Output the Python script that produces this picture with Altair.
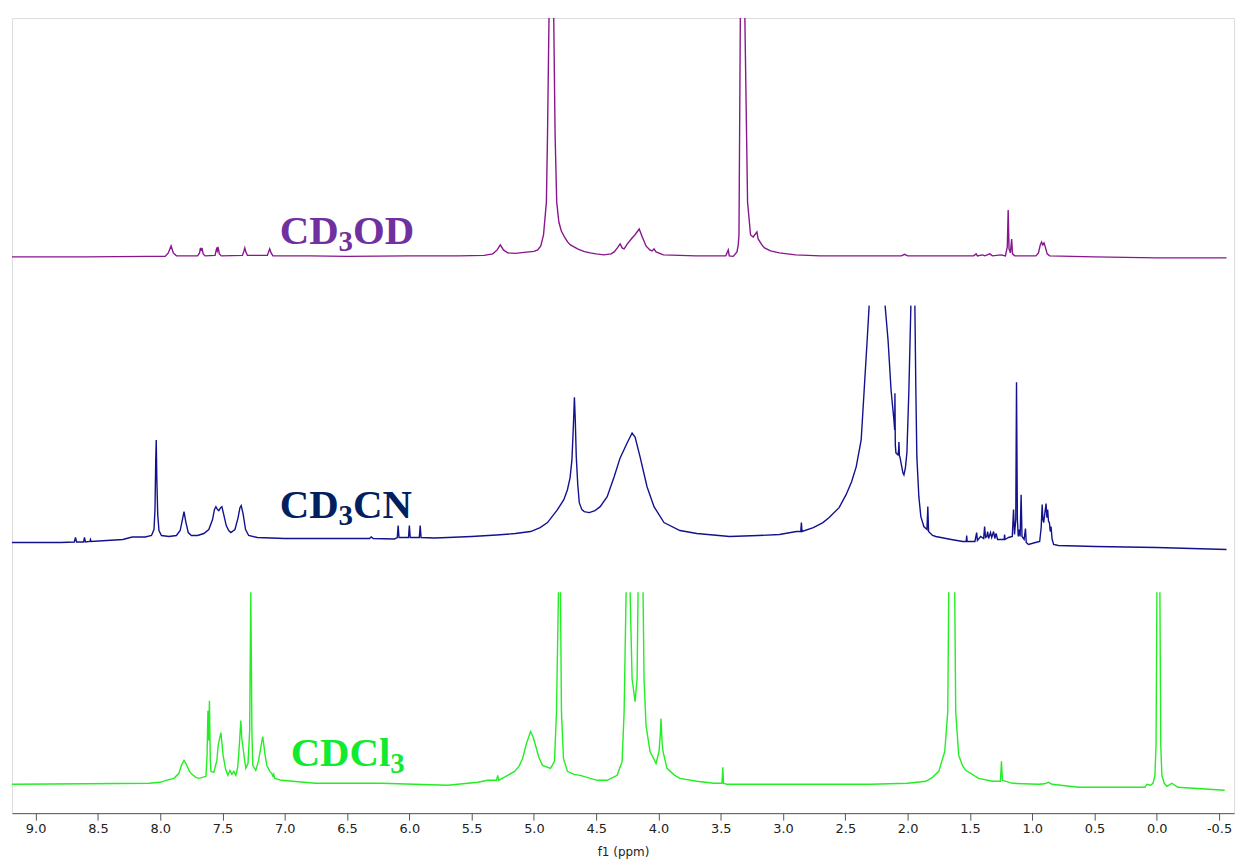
import altair as alt
import pandas as pd

# ---------------- data ----------------
# (chemical shift in ppm, intensity above the trace baseline); None = trace clipped (off scale)
CD3OD = [
    (9.19, 0), (8.60, 0), (8.10, 0.5), (7.96, 0.5), (7.935, 4), (7.913, 11), (7.895, 4), (7.87, 1),
    (7.70, 1), (7.684, 4), (7.677, 9), (7.671, 6), (7.665, 9), (7.655, 3), (7.64, 1),
    (7.56, 1.5), (7.548, 8), (7.542, 6), (7.536, 10), (7.525, 3), (7.51, 1),
    (7.34, 1.5), (7.33, 5), (7.321, 9), (7.313, 5), (7.30, 1.5),
    (7.14, 1.5), (7.13, 5), (7.121, 8), (7.11, 4), (7.095, 1),
    (6.80, 1), (6.50, 0.5), (6.00, 1), (5.60, 1), (5.40, 1.5), (5.33, 3), (5.295, 7), (5.27, 12),
    (5.245, 7), (5.21, 4), (5.15, 3.5), (5.08, 4.5), (5.00, 5.5), (4.97, 7), (4.945, 11), (4.923, 22),
    (4.900, 55), (4.891, 122), (4.877, 260), (4.859, 400), (4.843, 260), (4.830, 122), (4.817, 55),
    (4.80, 35), (4.78, 26), (4.755, 20), (4.73, 15), (4.707, 12), (4.65, 8), (4.60, 5.5), (4.55, 4),
    (4.50, 3), (4.44, 2), (4.38, 3), (4.356, 5), (4.33, 9), (4.308, 13), (4.292, 9), (4.276, 8),
    (4.25, 13), (4.212, 19), (4.19, 22), (4.155, 28), (4.13, 20), (4.10, 11), (4.07, 7), (4.052, 6),
    (4.036, 8), (4.02, 5), (3.96, 2), (3.70, 1), (3.46, 1), (3.44, 7), (3.432, 1), (3.40, 0.5),
    (3.37, 5), (3.36, 12), (3.354, 22), (3.349, 122), (3.342, 260), (3.325, 400), (3.309, 260),
    (3.293, 122), (3.285, 55), (3.261, 22), (3.24, 20), (3.21, 25), (3.20, 18), (3.17, 12), (3.149, 9),
    (3.10, 6), (3.03, 4), (2.90, 2), (2.70, 1), (2.40, 1), (2.05, 1), (2.025, 2.5), (2.00, 1), (1.60, 1),
    (1.47, 1), (1.45, 3), (1.44, 1), (1.40, 2), (1.38, 1), (1.34, 3), (1.32, 1), (1.25, 2), (1.215, 1),
    (1.20, 10), (1.193, 47), (1.186, 8), (1.175, 4), (1.165, 18), (1.158, 3), (1.14, 1), (0.97, 1),
    (0.95, 4), (0.935, 12), (0.925, 15), (0.915, 12), (0.905, 14), (0.895, 10), (0.88, 3), (0.86, 1),
    (0.50, 0), (0.00, -1), (-0.56, -1),
]

CD3CN = [
    (9.19, -3), (8.80, -3), (8.69, -2.5), (8.680, 2), (8.672, -2.5), (8.615, -2.5), (8.608, 2),
    (8.600, -2.5), (8.565, -2), (8.56, 0), (8.555, -2), (8.30, 0), (8.225, 2.5), (8.12, 2.5), (8.07, 4),
    (8.05, 10), (8.042, 30), (8.036, 80), (8.032, 100), (8.027, 60), (8.020, 25), (8.010, 9), (7.99, 4),
    (7.93, 3), (7.87, 4), (7.84, 9), (7.825, 18), (7.809, 28), (7.795, 18), (7.775, 7), (7.75, 4),
    (7.70, 4), (7.65, 6), (7.61, 10), (7.58, 20), (7.565, 30), (7.553, 33), (7.54, 30), (7.53, 29),
    (7.515, 32), (7.505, 33), (7.49, 25), (7.47, 14), (7.45, 9), (7.433, 7), (7.40, 10), (7.375, 22),
    (7.36, 32), (7.35, 34), (7.335, 26), (7.315, 10), (7.29, 4), (7.22, 2), (7.00, 1), (6.50, 1),
    (6.32, 1), (6.306, 2.5), (6.29, 1), (6.12, 0.5), (6.097, 2), (6.090, 14), (6.083, 2), (6.007, 2),
    (6.000, 14), (5.993, 2), (5.920, 2), (5.913, 14), (5.906, 2), (5.80, 1.5), (5.69, 2), (5.50, 3),
    (5.30, 4.5), (5.15, 6), (5.027, 8), (4.95, 12), (4.891, 17), (4.811, 30), (4.76, 40), (4.731, 50),
    (4.71, 62), (4.695, 80), (4.683, 115), (4.675, 143), (4.668, 120), (4.660, 83), (4.648, 55),
    (4.636, 37), (4.615, 30), (4.596, 28), (4.556, 27), (4.51, 29), (4.468, 33), (4.412, 43),
    (4.356, 63), (4.308, 82), (4.252, 97), (4.212, 107), (4.188, 103), (4.148, 83), (4.092, 53),
    (4.036, 33), (3.956, 17), (3.828, 9), (3.692, 6), (3.429, 3), (3.20, 4), (3.029, 5), (2.893, 8),
    (2.858, 8), (2.853, 17), (2.848, 8), (2.757, 12), (2.68, 17), (2.630, 22), (2.55, 32), (2.494, 45),
    (2.45, 58), (2.413, 73), (2.373, 100), (2.349, 150), (2.325, 200), (2.309, 235),
    None,
    (2.181, 235), (2.157, 200), (2.133, 150), (2.110, 120), (2.104, 110), (2.102, 147), (2.099, 95),
    (2.094, 87), (2.078, 85), (2.072, 90), (2.070, 98), (2.066, 84), (2.062, 83), (2.038, 67),
    (2.030, 65), (2.018, 72), (2.006, 87), (1.990, 150), (1.974, 235),
    None,
    (1.942, 235), (1.934, 150), (1.926, 83), (1.910, 43), (1.894, 23), (1.870, 13), (1.845, 10),
    (1.838, 33), (1.832, 8), (1.80, 4), (1.774, 3), (1.65, 0), (1.558, -2), (1.530, -2), (1.526, 4),
    (1.522, -2), (1.46, -2), (1.446, 7), (1.44, -1), (1.414, 3), (1.39, 1), (1.382, 13), (1.375, 2),
    (1.365, 3), (1.358, 8), (1.35, 1), (1.335, 7), (1.325, 2), (1.31, 8), (1.30, 1), (1.29, 6),
    (1.278, 0), (1.255, 0), (1.225, 0), (1.222, 5), (1.218, 0), (1.19, 2), (1.16, 3), (1.150, 30),
    (1.142, 5), (1.132, 20), (1.126, 158), (1.119, 20), (1.112, 3), (1.104, 10), (1.097, 3),
    (1.089, 45), (1.082, 3), (1.065, 0), (1.054, 11), (1.048, -3), (1.030, -5), (0.974, -3),
    (0.94, -2), (0.928, 12), (0.920, 35), (0.914, 20), (0.908, 17), (0.900, 25), (0.889, 36),
    (0.882, 22), (0.876, 30), (0.869, 18), (0.862, 17), (0.855, 8), (0.849, 13), (0.840, 0),
    (0.828, -5), (0.79, -6), (0.494, -7), (0.00, -8), (-0.56, -10),
]

CDCl3 = [
    (9.19, 1), (8.60, 1.5), (8.089, 2), (8.00, 3), (7.953, 5), (7.889, 7), (7.85, 12), (7.83, 20),
    (7.809, 25), (7.79, 21), (7.765, 14), (7.745, 11), (7.713, 8), (7.689, 7), (7.633, 9), (7.624, 30),
    (7.617, 75), (7.611, 45), (7.605, 85), (7.598, 25), (7.593, 14), (7.57, 13), (7.545, 25),
    (7.535, 40), (7.513, 53), (7.495, 30), (7.475, 16), (7.457, 10), (7.441, 15), (7.425, 11),
    (7.409, 14), (7.393, 10), (7.378, 18), (7.365, 40), (7.353, 65), (7.345, 47), (7.325, 28),
    (7.313, 17), (7.295, 22), (7.282, 55), (7.276, 150), (7.273, 194), (7.270, 150), (7.264, 55),
    (7.257, 20), (7.233, 15), (7.21, 25), (7.19, 40), (7.177, 49), (7.16, 32), (7.145, 20), (7.12, 14),
    (7.105, 12), (7.095, 9), (7.089, 11), (7.08, 7), (7.026, 5), (6.754, 2), (6.226, 2), (5.691, 0),
    (5.45, 3), (5.371, 5), (5.30, 5), (5.291, 10), (5.283, 5), (5.211, 10), (5.155, 14), (5.12, 19),
    (5.091, 27), (5.06, 42), (5.027, 54), (5.005, 48), (4.987, 40), (4.96, 28), (4.931, 20),
    (4.867, 17), (4.835, 24), (4.819, 74), (4.803, 194),
    None,
    (4.787, 194), (4.779, 74), (4.763, 27), (4.731, 14), (4.68, 11), (4.628, 10), (4.492, 5),
    (4.412, 5), (4.332, 10), (4.292, 24), (4.276, 74), (4.260, 194),
    None,
    (4.228, 194), (4.212, 107), (4.188, 84), (4.172, 107), (4.164, 194),
    None,
    (4.124, 194), (4.116, 107), (4.100, 60), (4.068, 34), (4.020, 22), (3.996, 34), (3.986, 50),
    (3.980, 67), (3.972, 45), (3.964, 34), (3.932, 17), (3.87, 10), (3.828, 7), (3.692, 4),
    (3.556, 2), (3.49, 2), (3.484, 18), (3.478, 2), (3.452, 1), (3.30, 1), (2.80, 1), (2.30, 1),
    (2.00, 2), (1.854, 4), (1.80, 8), (1.750, 14), (1.702, 34), (1.678, 74), (1.670, 194),
    None,
    (1.622, 194), (1.614, 74), (1.590, 30), (1.560, 20), (1.534, 15), (1.430, 7), (1.319, 4),
    (1.255, 4), (1.247, 24), (1.239, 5), (1.158, 2), (0.95, 1), (0.90, 1.5), (0.87, 3), (0.84, 1),
    (0.630, -2), (0.095, -2), (0.079, 1), (0.05, 0), (0.03, 2), (0.015, 10), (0.006, 40), (-0.001, 194),
    None,
    (-0.025, 194), (-0.032, 40), (-0.041, 10), (-0.06, 2), (-0.081, -1), (-0.121, 2), (-0.169, -2),
    (-0.545, -5),
]

solvents = ["CD3OD", "CD3CN", "CDCl3"]
stack_offsets = [559, 275, 28]
trace_colors = ["#88168C", "#12128E", "#22EE22"]

major_ticks = [9.0, 8.5, 8.0, 7.5, 7.0, 6.5, 6.0, 5.5, 5.0, 4.5, 4.0, 3.5, 3.0, 2.5, 2.0, 1.5, 1.0, 0.5, 0.0, -0.5]
minor_ticks = [8.75, 8.25, 7.75, 7.25, 6.75, 6.25, 5.75, 5.25, 4.75, 4.25, 3.75, 3.25, 2.75, 2.25,
               1.75, 1.25, 0.75, 0.25, -0.25]

# label pieces (text, ppm, height, font size, colour)
label_text = ["CD", "3", "OD", "CD", "3", "CN", "CDCl", "3"]
label_ppm = [7.041, 6.568, 6.452, 7.041, 6.568, 6.452, 6.953, 6.153]
label_y = [572, 565, 572, 297, 290, 297, 47, 40]
label_size = [41, 29, 41, 41, 29, 41, 41, 29]
label_color = ["#7030A0"] * 3 + ["#002060"] * 3 + ["#10EA30"] * 2

# ---------------- build tables ----------------
rows = []
for name, pts, off in zip(solvents, [CD3OD, CD3CN, CDCl3], stack_offsets):
    seg = 0
    for i, p in enumerate(pts):
        if p is None:
            seg += 1
            continue
        rows.append({"trace": name, "seg": f"{name}-{seg}", "ppm": p[0], "y": p[1] + off, "i": i})
spec = pd.DataFrame(rows)

labels = pd.DataFrame({"text": label_text, "ppm": label_ppm, "y": label_y,
                       "size": label_size, "color": label_color})

x_scale = alt.Scale(domain=[9.19, -0.62], nice=False, zero=False)
y_scale = alt.Scale(domain=[0, 799], nice=False, zero=False)

x_axis = alt.Axis(
    values=major_ticks + minor_ticks,
    labelExpr="datum.value % 0.5 == 0 ? (datum.value < 0 ? '-' : '') + format(abs(datum.value), '.1f') : ''",
    tickSize={"condition": {"test": "datum.value % 0.5 == 0", "value": 7}, "value": 4},
    title="f1 (ppm)", grid=False, labelFlush=False, labelOverlap=False,
    domainColor="#555555", tickColor="#555555", labelColor="#222222", titleColor="#222222",
    labelFont="DejaVu Sans", labelFontSize=13, labelPadding=2,
    titleFont="DejaVu Sans", titleFontSize=12, titleFontWeight="normal", titlePadding=12,
)

lines = alt.Chart(spec).mark_line(strokeWidth=1.4, clip=True).encode(
    x=alt.X("ppm:Q", scale=x_scale, axis=x_axis),
    y=alt.Y("y:Q", scale=y_scale, axis=None),
    color=alt.Color("trace:N", scale=alt.Scale(domain=solvents, range=trace_colors), legend=None),
    detail="seg:N",
    order="i:Q",
)

texts = alt.Chart(labels).mark_text(
    font="Liberation Serif", fontWeight="bold", align="left", baseline="alphabetic"
).encode(
    x=alt.X("ppm:Q", scale=x_scale),
    y=alt.Y("y:Q", scale=y_scale),
    text="text:N",
    size=alt.Size("size:Q", scale=None, legend=None),
    color=alt.Color("color:N", scale=None, legend=None),
)

chart = alt.layer(lines, texts).properties(
    width=1228, height=799,
    padding={"left": 4, "top": 8, "right": 3, "bottom": 0},
).configure_view(stroke=None).configure(background="white")

chart.save("out.html", embed_options={"renderer": "svg", "actions": False})
